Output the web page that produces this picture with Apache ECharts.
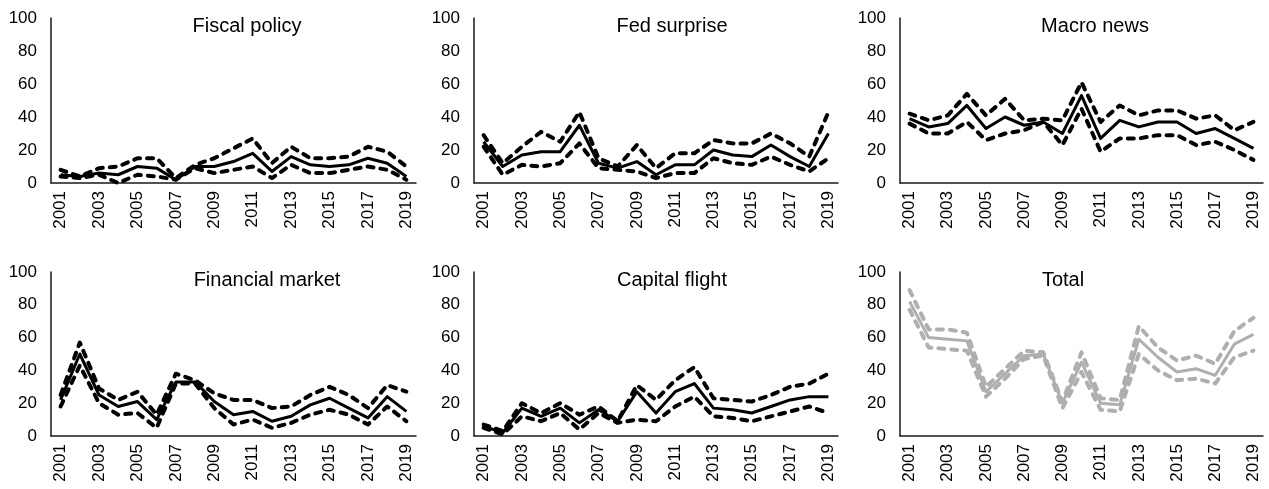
<!DOCTYPE html>
<html>
<head>
    <meta charset="UTF-8"/>
    <title>Shares by driver</title>
    <script type="text/javascript" src="https://cdn.jsdelivr.net/npm/echarts@6/dist/echarts.min.js"></script>
    <style>
        html, body { margin: 0; padding: 0; background: #fff; }
    </style>
</head>
<body>

<div id="main" style="width: 1269px;height:489px;"></div>

<script type="text/javascript">
    // years on the x axis
    var years = ['2001','2002','2003','2004','2005','2006','2007','2008','2009','2010',
                 '2011','2012','2013','2014','2015','2016','2017','2018','2019'];

    // Fiscal policy
    var fiscalMid   = [5, 4, 6, 5, 10, 9, 2, 10, 10, 13, 18, 7, 16, 11, 10, 11, 15, 12, 4];
    var fiscalHigh  = [8, 4, 9, 10, 15, 15, 3, 11, 15, 21, 27, 12, 22, 15, 15, 16, 22, 19, 10];
    var fiscalLow   = [4, 3, 5, 0, 5, 4, 2, 9, 6, 8, 10, 3, 11, 6, 6, 8, 10, 8, 2];

    // Fed surprise
    var fedMid      = [25, 10, 17, 19, 19, 35, 12, 9, 13, 5, 11, 11, 20, 17, 16, 23, 16, 10, 30];
    var fedHigh     = [29, 12, 22, 31, 25, 43, 15, 10, 23, 9, 18, 18, 26, 24, 24, 30, 24, 16, 43];
    var fedLow      = [22, 5, 11, 10, 12, 24, 9, 8, 7, 3, 6, 6, 15, 12, 11, 16, 11, 7, 15];

    // Macro news
    var macroMid    = [39, 34, 36, 47, 33, 40, 35, 37, 30, 53, 27, 38, 34, 37, 37, 30, 33, 27, 21];
    var macroHigh   = [42, 38, 41, 54, 41, 51, 38, 39, 38, 61, 37, 47, 41, 44, 44, 39, 41, 32, 37];
    var macroLow    = [36, 30, 30, 37, 26, 30, 32, 37, 23, 45, 19, 27, 27, 29, 29, 23, 25, 20, 14];

    // Financial market
    var finMid      = [22, 50, 25, 18, 21, 10, 33, 33, 21, 13, 15, 9, 12, 19, 23, 17, 11, 24, 15];
    var finHigh     = [25, 57, 29, 22, 27, 13, 38, 34, 26, 22, 22, 17, 18, 25, 30, 25, 17, 31, 27];
    var finLow      = [18, 43, 20, 13, 14, 5, 32, 32, 17, 7, 10, 5, 8, 13, 16, 13, 7, 18, 9];

    // Capital flight
    var capMid      = [6, 2, 17, 12, 17, 8, 16, 9, 27, 14, 27, 32, 17, 16, 14, 18, 22, 24, 24];
    var capHigh     = [7, 3, 20, 14, 20, 13, 18, 9, 31, 22, 34, 42, 23, 22, 21, 25, 30, 32, 38];
    var capLow      = [5, 1, 12, 9, 14, 4, 14, 8, 10, 9, 18, 24, 12, 11, 9, 12, 15, 18, 14];

    // Total
    var totalMid    = [82, 60, 59, 58, 27, 38, 49, 50, 20, 45, 20, 19, 59, 48, 39, 41, 37, 56, 62];
    var totalHigh   = [89, 65, 65, 63, 30, 41, 52, 51, 21, 51, 23, 22, 67, 54, 46, 49, 44, 64, 72];
    var totalLow    = [77, 54, 53, 52, 24, 35, 47, 49, 17, 39, 16, 15, 50, 40, 34, 35, 32, 48, 52];

    var yTicks = [0, 20, 40, 60, 80, 100];

    var panels = [
        {name: 'Fiscal policy',    mid: fiscalMid, high: fiscalHigh, low: fiscalLow, color: '#000', left: 51,  top: 18,  width: 365, height: 165, tx: 247,  ty: 26},
        {name: 'Fed surprise',     mid: fedMid,    high: fedHigh,    low: fedLow,    color: '#000', left: 474, top: 18,  width: 364, height: 165, tx: 672,  ty: 26},
        {name: 'Macro news',       mid: macroMid,  high: macroHigh,  low: macroLow,  color: '#000', left: 900, top: 18,  width: 363, height: 165, tx: 1095, ty: 26},
        {name: 'Financial market', mid: finMid,    high: finHigh,    low: finLow,    color: '#000', left: 51,  top: 272, width: 365, height: 164, tx: 267,  ty: 280},
        {name: 'Capital flight',   mid: capMid,    high: capHigh,    low: capLow,    color: '#000', left: 474, top: 272, width: 364, height: 164, tx: 672,  ty: 280},
        {name: 'Total',            mid: totalMid,  high: totalHigh,  low: totalLow,  color: '#afafaf', left: 900, top: 272, width: 363, height: 164, tx: 1063, ty: 280}
    ];

    var myChart = echarts.init(document.getElementById('main'), null, {renderer: 'canvas'});

    var grids = [], xAxes = [], yAxes = [], series = [], graphics = [];
    var font = 'Liberation Sans, Arial, sans-serif';

    panels.forEach(function (p, i) {
        grids.push({left: p.left, top: p.top, width: p.width, height: p.height});
        xAxes.push({
            type: 'category', gridIndex: i, data: years, boundaryGap: true,
            axisLine: {show: true, lineStyle: {color: '#1a1a1a', width: 1.5}},
            axisTick: {show: false},
            axisLabel: {interval: 1, rotate: 90, color: '#000', fontSize: 17, fontFamily: font, margin: 8}
        });
        yAxes.push({
            type: 'value', gridIndex: i, min: yTicks[0], max: yTicks[yTicks.length - 1], interval: 20,
            axisLine: {show: true, lineStyle: {color: '#1a1a1a', width: 1.5}},
            axisTick: {show: false},
            splitLine: {show: false},
            axisLabel: {color: '#000', fontSize: 17, fontFamily: font, margin: 14}
        });
        var dashed = {color: p.color, width: 4, type: [6, 7], cap: 'round', join: 'round'};
        series.push({type: 'line', xAxisIndex: i, yAxisIndex: i, data: p.high, symbol: 'none', lineStyle: dashed});
        series.push({type: 'line', xAxisIndex: i, yAxisIndex: i, data: p.low, symbol: 'none', lineStyle: dashed});
        series.push({type: 'line', xAxisIndex: i, yAxisIndex: i, data: p.mid, symbol: 'none',
            lineStyle: {color: p.color, width: 3, join: 'round'}});
        graphics.push({
            type: 'text', x: p.tx, y: p.ty,
            style: {text: p.name, fill: '#000', font: '20px ' + font, textAlign: 'center', textVerticalAlign: 'middle'}
        });
    });

    var option = {
        animation: false,
        grid: grids,
        xAxis: xAxes,
        yAxis: yAxes,
        series: series,
        graphic: graphics
    };
    myChart.setOption(option);
</script>
</body>
</html>
